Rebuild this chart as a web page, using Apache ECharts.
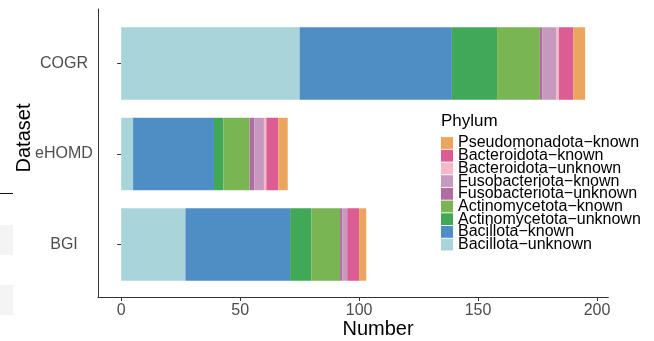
<!DOCTYPE html>
<html>
<head>
<meta charset="utf-8">
<script src="https://cdn.jsdelivr.net/npm/echarts@6/dist/echarts.min.js"></script>
<style>html,body{margin:0;padding:0;background:#fff;}#c{width:654px;height:341px;}</style>
</head>
<body>
<div id="c"></div>
<script>
const categories = ['BGI', 'eHOMD', 'COGR'];
const xTicks = [0, 50, 100, 150, 200];
const seriesNames = [
  'Bacillota−unknown', 'Bacillota−known',
  'Actinomycetota−unknown', 'Actinomycetota−known',
  'Fusobacteriota−unknown', 'Fusobacteriota−known',
  'Bacteroidota−unknown', 'Bacteroidota−known',
  'Pseudomonadota−known'
];
const bacillotaUnknown = [27, 5, 75];
const bacillotaKnown = [44, 34, 64];
const actinoUnknown = [9, 4, 19];
const actinoKnown = [12, 11, 18];
const fusoUnknown = [1, 2, 1];
const fusoKnown = [2, 4, 6];
const bacteroUnknown = [0, 1, 1];
const bacteroKnown = [5, 5, 6];
const pseudoKnown = [3, 4, 5];
const seriesValues = [bacillotaUnknown, bacillotaKnown, actinoUnknown, actinoKnown,
  fusoUnknown, fusoKnown, bacteroUnknown, bacteroKnown, pseudoKnown];
const colors = ['#a9d4da', '#4f8ec4', '#40a857', '#7ab553', '#b16ca4', '#c59abe', '#f4b8c7', '#dc5c94', '#eca55e'];

const FONT = 'Liberation Sans, Arial, sans-serif';
const chart = echarts.init(document.getElementById('c'), null, {renderer: 'canvas'});
const xMin = -9.75, xMax = 204.75;

chart.setOption({
  animation: false,
  textStyle: {fontFamily: FONT},
  title: {
    text: 'Phylum', left: 441, top: 113, padding: [0, 0, 0, 0],
    textStyle: {fontSize: 17, fontWeight: 'normal', color: '#000', fontFamily: FONT}
  },
  legend: {
    orient: 'vertical', left: 441, top: 135, padding: 0,
    itemWidth: 12, itemHeight: 11.8, itemGap: -3.3,
    icon: 'rect',
    data: seriesNames.slice().reverse(),
    textStyle: {fontSize: 16, color: '#000', fontFamily: FONT}
  },
  grid: [
    {left: 98, right: 45.7, top: 18.25, bottom: 51.25, containLabel: false},
    {left: 98, right: 45.7, top: 9, bottom: 44, containLabel: false}
  ],
  xAxis: [
    {gridIndex: 0, type: 'value', min: xMin, max: xMax, show: false},
    {gridIndex: 1, type: 'value', min: xMin, max: xMax,
     axisLine: {show: true, onZero: false, lineStyle: {color: '#333', width: 1}},
     axisTick: {show: true, length: 4, customValues: xTicks, lineStyle: {color: '#333'}},
     axisLabel: {show: true, customValues: xTicks, color: '#4d4d4d', fontSize: 16, margin: 6, fontFamily: FONT},
     splitLine: {show: false}}
  ],
  yAxis: [
    {gridIndex: 0, type: 'category', data: categories,
     axisLine: {show: false},
     axisTick: {show: true, alignWithLabel: true, length: 4, lineStyle: {color: '#333'}},
     axisLabel: {color: '#4d4d4d', fontSize: 16, align: 'center', margin: 34, fontFamily: FONT},
     splitLine: {show: false}},
    {gridIndex: 1, type: 'value', min: 0, max: 1,
     axisLine: {show: true, onZero: false, lineStyle: {color: '#333', width: 1}},
     axisTick: {show: false}, axisLabel: {show: false}, splitLine: {show: false}}
  ],
  graphic: [
    {type: 'text', x: 24, y: 138, rotation: Math.PI / 2,
     style: {text: 'Dataset', fontSize: 20, fill: '#000', align: 'center', verticalAlign: 'middle', fontFamily: FONT}},
    {type: 'text', x: 378, y: 329,
     style: {text: 'Number', fontSize: 20, fill: '#000', align: 'center', verticalAlign: 'middle', fontFamily: FONT}},
    {type: 'line', shape: {x1: 0, y1: 193.5, x2: 13, y2: 193.5}, style: {stroke: '#111', lineWidth: 1}},
    {type: 'rect', shape: {x: 0, y: 225, width: 13, height: 30}, style: {fill: '#f4f4f4'}},
    {type: 'rect', shape: {x: 0, y: 285, width: 13, height: 30}, style: {fill: '#f4f4f4'}}
  ],
  series: seriesNames.map((name, i) => ({
    name: name, type: 'bar', stack: 'total',
    xAxisIndex: 0, yAxisIndex: 0,
    barWidth: '80%',
    itemStyle: {color: colors[i]},
    data: seriesValues[i]
  }))
});
</script>
</body>
</html>
